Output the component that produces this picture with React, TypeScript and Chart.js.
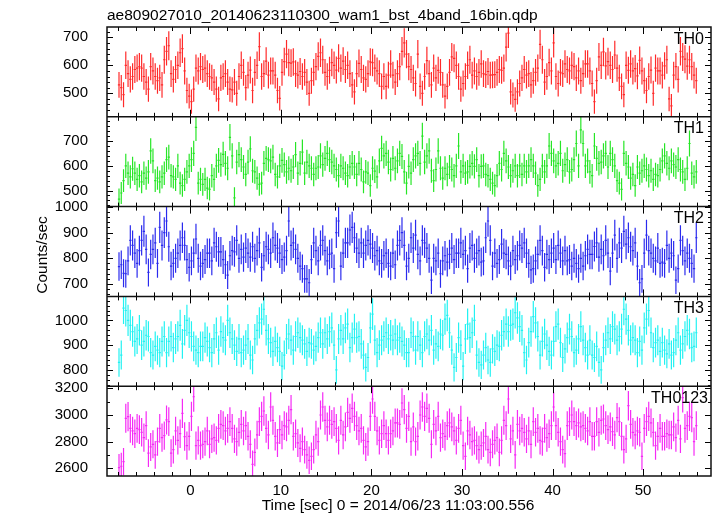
import React, { useEffect, useRef } from "react";
import { Chart, registerables } from "chart.js";

Chart.register(...registerables);

const TITLE = "ae809027010_20140623110300_wam1_bst_4band_16bin.qdp";
const X_TITLE = "Time [sec] 0 = 2014/06/23 11:03:00.556";
const Y_TITLE = "Counts/sec";
const T_START = -8; // start of the first time bin [s]
const BIN = 0.25; // bin width [s]
const X_MIN = -9.2;
const X_MAX = 57.5;

const TH0 = [
  530,520,495,600,570,550,560,585,590,595,
  590,560,540,515,595,580,560,545,555,530,
  620,650,670,570,550,585,600,645,660,580,
  510,490,470,515,590,580,595,585,590,570,
  560,555,540,515,480,555,560,570,540,515,
  512,540,500,560,600,575,520,565,583,510,
  575,600,667,560,570,615,565,580,580,565,
  510,482,575,613,640,610,608,612,570,565,
  578,560,575,540,500,545,575,595,632,645,
  620,575,560,582,610,600,583,625,590,615,
  585,600,570,
  530,505,570,607,585,555,550,570,612,610,
  590,580,570,525,560,525,565,605,565,540,
  570,595,650,680,640,595,585,555,535,640,
  525,500,560,617,570,530,590,555,582,575,
  530,490,525,575,630,625,600,560,515,535,
  560,600,620,
  565,580,560,575,605,570,567,578,565,566,
  567,575,585,582,590,665,715,505,494,478,
  505,535,555,585,565,570,530,545,575,590,
  675,620,540,560,610,580,680,560,535,575,
  570,605,585,580,600,595,555,580,545,570,
  605,605,580,
  535,470,545,630,600,648,598,613,600,585,
  637,590,555,525,495,600,582,605,580,588,
  562,618,580,545,510,560,583,500,590,580,
  580,565,598,620,480,455,565,595,550,650,
  630,622,597,620,595,565,545,
];

const TH1 = [
  465,490,540,600,570,555,588,570,545,560,
  535,570,550,575,660,620,540,550,535,555,
  570,625,635,560,555,545,600,530,520,545,
  575,600,625,650,755,530,545,525,545,510,
  505,560,545,600,622,605,646,610,590,715,
  640,470,615,645,625,595,565,615,668,580,
  575,550,525,530,610,630,625,620,635,565,
  555,600,622,605,575,590,580,595,645,570,
  610,655,570,615,600,590,565,590,595,640,
  605,630,650,625,615,600,585,560,600,590,
  570,560,595,
  610,595,565,610,585,535,575,570,520,590,
  578,555,620,670,640,650,615,585,630,590,
  620,650,638,575,530,598,570,625,640,650,
  610,720,615,640,660,580,540,585,660,590,
  550,590,565,595,585,560,600,680,575,600,
  570,575,598,
  610,598,625,560,598,600,565,560,545,530,
  520,560,610,585,650,620,595,560,580,600,
  560,600,565,600,575,600,625,600,570,520,
  545,600,575,600,680,650,620,600,610,650,
  580,605,625,575,585,625,690,600,745,690,
  600,620,575,
  560,680,630,610,615,640,650,595,650,625,
  600,540,530,505,650,610,595,550,565,520,
  595,570,580,600,585,560,580,545,565,560,
  585,620,640,610,590,620,605,595,625,585,
  575,545,590,690,570,555,575,
];

const TH2 = [
  768,775,742,740,790,870,850,820,780,830,
  870,905,835,745,815,835,860,780,920,850,
  900,945,845,770,780,800,820,850,880,850,
  795,765,790,820,875,800,770,780,795,820,
  820,790,860,845,825,825,795,775,735,810,
  830,825,870,800,835,805,840,820,805,845,
  800,830,860,765,810,845,835,820,880,850,
  840,820,795,805,830,945,850,860,835,800,
  770,760,720,720,705,795,860,830,790,850,
  870,830,790,815,820,760,900,945,770,820,
  860,860,910,
  920,880,840,820,860,820,850,870,855,840,
  810,830,790,780,810,820,780,770,820,775,
  850,870,900,850,770,800,880,840,890,815,
  790,870,860,840,800,715,800,790,820,740,
  790,810,785,815,840,795,820,820,860,815,
  830,760,840,
  850,800,820,830,785,790,880,945,870,770,
  820,780,795,855,820,815,790,770,830,795,
  810,850,840,860,820,780,755,760,790,815,
  870,830,765,815,795,820,840,795,850,820,
  790,830,790,795,770,800,780,760,800,770,
  810,835,815,
  815,846,860,805,835,810,870,820,750,820,
  890,800,860,840,905,855,880,845,830,860,
  770,705,720,820,890,830,820,800,790,840,
  780,785,780,850,800,820,810,715,760,870,
  830,790,820,800,780,760,880,
];

const TH3 = [
  830,860,1050,1040,1000,980,955,915,925,960,
  900,915,940,935,870,860,895,880,870,915,
  935,870,915,935,890,925,935,980,905,960,
  1000,950,935,895,880,870,895,895,930,915,
  890,870,925,950,880,955,930,920,1000,950,
  925,900,875,925,870,880,900,925,860,840,
  925,960,990,1005,1045,960,925,910,875,915,
  890,875,815,860,925,945,920,880,935,950,
  930,920,905,875,910,905,880,895,930,950,
  905,950,925,955,970,900,800,925,960,925,
  970,985,890,
  930,965,930,935,905,860,810,850,970,1025,
  920,870,900,920,935,950,925,940,920,945,
  920,930,915,900,870,870,950,935,880,935,
  900,870,935,945,920,960,880,905,895,945,
  940,1005,1020,950,880,810,850,930,900,815,
  925,985,930,
  950,1000,860,830,820,860,890,840,830,885,
  875,900,895,940,955,985,955,980,985,1031,
  1010,975,960,870,840,910,955,1015,990,935,
  860,915,945,900,875,860,915,975,985,910,
  850,885,930,965,935,870,880,925,975,920,
  890,860,920,
  860,850,895,830,800,890,920,950,925,975,
  965,920,935,965,1045,1005,960,920,930,920,
  870,915,880,970,1005,1040,950,890,910,920,
  875,910,880,865,905,860,870,920,950,880,
  905,935,960,945,890,895,950,
];

const TH0123 = [
  2605,2615,2650,2975,2988,2900,2880,2860,2900,2890,
  2870,2830,2920,2714,2760,2780,2700,2800,2900,2830,
  2845,2963,2950,2714,2740,2880,2810,2860,3012,2838,
  2770,2840,2990,3137,2770,2810,2770,2780,2800,2880,
  2780,2820,2830,2810,2900,2930,2920,2880,2900,2950,
  2900,2820,2800,2870,2930,2880,2920,2840,2780,2630,
  2720,2850,2950,2990,3030,2900,2850,3060,2960,2840,
  2790,2890,2850,2920,2910,2960,3040,2840,2860,2790,
  2750,2800,2740,2700,2660,2690,2740,2850,2800,3000,
  3060,2960,2910,2960,2930,2950,2900,2810,2960,2850,
  2910,3020,2975,3050,2990,2920,2880,2900,2810,2760,
  2800,2990,3120,2990,2880,2810,2860,2920,2860,2810,
  2860,2880,2940,2940,2930,
  3090,3040,2900,2990,2800,2910,2800,2840,3000,3060,
  2990,3050,2975,2780,2930,2880,2990,2830,2860,2840,
  2920,2940,2910,2880,2810,2900,2960,2770,2690,2880,
  2850,2800,2810,2770,2740,2770,2790,2840,2740,2720,
  2780,2810,2830,2720,2810,2960,2920,3120,2820,2880,
  2700,2930,2880,2900,2870,2820,2880,2780,2950,2870,
  2900,2810,2800,2900,2830,2860,2920,3060,2920,2870,
  2800,2740,2710,2920,2950,3000,2950,2920,2940,2910,
  2920,2900,2880,2950,2840,2840,2950,2870,2960,2970,
  2920,2890,2910,2875,2850,2980,2950,2840,2740,2820,
  3070,2930,2870,2850,2880,2870,2690,2900,2950,2990,
  2940,2870,2770,2840,2900,2840,2840,2860,2850,2850,
  2910,2830,2960,2820,3130,2900,2920,2990,2980,2800,
  2920,
];

type Panel = {
  id: string;
  label: string;
  values: number[];
  color: string;
  min: number;
  max: number;
  major: number;
  minor: number;
  weight: number;
};

const PANELS: Panel[] = [
  { id: "y0", label: "TH0", values: TH0, color: "#ff2a2a", min: 416, max: 737, major: 100, minor: 20, weight: 5 },
  { id: "y1", label: "TH1", values: TH1, color: "#26e626", min: 435, max: 798, major: 100, minor: 20, weight: 4 },
  { id: "y2", label: "TH2", values: TH2, color: "#2a2aee", min: 652, max: 1001, major: 100, minor: 20, weight: 3 },
  { id: "y3", label: "TH3", values: TH3, color: "#22f2f2", min: 734, max: 1097, major: 100, minor: 20, weight: 2 },
  { id: "y4", label: "TH0123", values: TH0123, color: "#f52af5", min: 2542, max: 3216, major: 200, minor: 100, weight: 1 },
];

const FONT = "'Liberation Sans', Arial, Helvetica, sans-serif";

const qdpPlugin = {
  id: "qdpPlugin",
  afterDatasetsDraw(chart: any) {
    const ctx = chart.ctx as CanvasRenderingContext2D;
    const xs = chart.scales.x;
    const ca = chart.chartArea;
    chart.data.datasets.forEach((ds: any) => {
      const ys = chart.scales[ds.yAxisID];
      ctx.save();
      ctx.beginPath();
      ctx.rect(ca.left, ys.top, ca.right - ca.left, ys.bottom - ys.top);
      ctx.clip();
      ctx.strokeStyle = ds.borderColor;
      ctx.lineWidth = 1.2;
      ctx.beginPath();
      for (const p of ds.data) {
        const x = xs.getPixelForValue(p.x);
        const xl = xs.getPixelForValue(p.x - BIN / 2);
        const xr = xs.getPixelForValue(p.x + BIN / 2);
        const y = ys.getPixelForValue(p.y);
        const ya = ys.getPixelForValue(p.y - p.err);
        const yb = ys.getPixelForValue(p.y + p.err);
        ctx.moveTo(xl, y);
        ctx.lineTo(xr, y);
        ctx.moveTo(x, ya);
        ctx.lineTo(x, yb);
      }
      ctx.stroke();
      ctx.restore();
    });
  },
  afterDraw(chart: any) {
    const ctx = chart.ctx as CanvasRenderingContext2D;
    const xs = chart.scales.x;
    const ca = chart.chartArea;
    ctx.save();
    // ticks
    ctx.strokeStyle = "#000";
    ctx.lineWidth = 1;
    ctx.beginPath();
    PANELS.forEach((p) => {
      const ys = chart.scales[p.id];
      const top = ys.top;
      const bottom = ys.bottom;
      const k0 = Math.ceil(p.min / p.minor);
      const k1 = Math.floor(p.max / p.minor);
      for (let k = k0; k <= k1; k++) {
        const v = k * p.minor;
        const y = Math.round(ys.getPixelForValue(v)) + 0.5;
        const isMajor = Math.abs(v / p.major - Math.round(v / p.major)) < 1e-6;
        const len = isMajor ? 6 : 3;
        ctx.moveTo(ca.left, y);
        ctx.lineTo(ca.left + len, y);
        ctx.moveTo(ca.right, y);
        ctx.lineTo(ca.right - len, y);
      }
      const j0 = Math.ceil(X_MIN / 2);
      const j1 = Math.floor(X_MAX / 2);
      for (let j = j0; j <= j1; j++) {
        const t = j * 2;
        const x = Math.round(xs.getPixelForValue(t)) + 0.5;
        const len = t % 10 === 0 ? 7 : 4;
        ctx.moveTo(x, top);
        ctx.lineTo(x, top + len);
        ctx.moveTo(x, bottom);
        ctx.lineTo(x, bottom - len);
      }
    });
    ctx.stroke();

    // frames
    ctx.strokeStyle = "#111";
    ctx.lineWidth = 1.5;
    ctx.beginPath();
    ctx.rect(ca.left, ca.top, ca.right - ca.left, ca.bottom - ca.top);
    PANELS.forEach((p, i) => {
      if (i === 0) return;
      const ys = chart.scales[p.id];
      ctx.moveTo(ca.left, ys.top);
      ctx.lineTo(ca.right, ys.top);
    });
    ctx.stroke();

    // panel labels
    ctx.fillStyle = "#000";
    ctx.font = `16px ${FONT}`;
    ctx.textAlign = "right";
    ctx.textBaseline = "alphabetic";
    PANELS.forEach((p) => {
      const ys = chart.scales[p.id];
      ctx.fillText(p.label, p.label.length > 3 ? 708 : 704, ys.top + 16.5);
    });

    // title
    ctx.font = `15.5px ${FONT}`;
    ctx.textAlign = "left";
    ctx.fillText(TITLE, 107, 19.5);

    // x title
    ctx.textAlign = "center";
    ctx.fillText(X_TITLE, 398, 510);

    // y title
    ctx.translate(47, 255);
    ctx.rotate(-Math.PI / 2);
    ctx.textAlign = "center";
    ctx.fillText(Y_TITLE, 0, 0);
    ctx.restore();
  },
};

export default function App() {
  const ref = useRef<HTMLCanvasElement | null>(null);

  useEffect(() => {
    if (!ref.current) return;
    const datasets = PANELS.map((p) => ({
      label: p.label,
      yAxisID: p.id,
      borderColor: p.color,
      backgroundColor: p.color,
      showLine: false,
      pointRadius: 0,
      pointHoverRadius: 0,
      data: p.values.map((v, i) => ({
        x: T_START + BIN * (i + 0.5),
        y: v,
        err: Math.sqrt(v * BIN) / BIN,
      })),
    }));

    const scales: any = {
      x: {
        type: "linear",
        position: "bottom",
        min: X_MIN,
        max: X_MAX,
        grid: { display: false },
        border: { display: false },
        ticks: {
          stepSize: 10,
          includeBounds: false,
          autoSkip: false,
          maxRotation: 0,
          padding: -2,
          color: "#000",
          font: { family: FONT, size: 15 },
          callback: (v: any) => String(v),
        },
        afterFit: (s: any) => {
          s.height = 40;
        },
      },
    };
    PANELS.forEach((p) => {
      scales[p.id] = {
        type: "linear",
        position: "left",
        stack: "panels",
        stackWeight: 1,
        weight: p.weight,
        min: p.min,
        max: p.max,
        grid: { display: false },
        border: { display: false },
        ticks: {
          stepSize: p.major,
          includeBounds: false,
          autoSkip: false,
          padding: 11,
          color: "#000",
          font: { family: FONT, size: 15 },
          callback: (v: any) => String(v),
        },
        afterFit: (s: any) => {
          s.width = 107;
        },
      };
    });

    const chart = new Chart(ref.current, {
      type: "line",
      data: { datasets } as any,
      options: {
        animation: false,
        responsive: false,
        maintainAspectRatio: false,
        events: [],
        layout: { padding: { left: 0, right: 6, top: 27, bottom: 0 } },
        plugins: {
          legend: { display: false },
          tooltip: { enabled: false },
          title: { display: false },
        },
        scales,
      } as any,
      plugins: [qdpPlugin],
    });
    return () => chart.destroy();
  }, []);

  return (
    <div style={{ position: "fixed", left: 0, top: 0, width: 717, height: 516, background: "#fff" }}>
      <canvas ref={ref} width={717} height={516} style={{ display: "block" }} />
    </div>
  );
}
